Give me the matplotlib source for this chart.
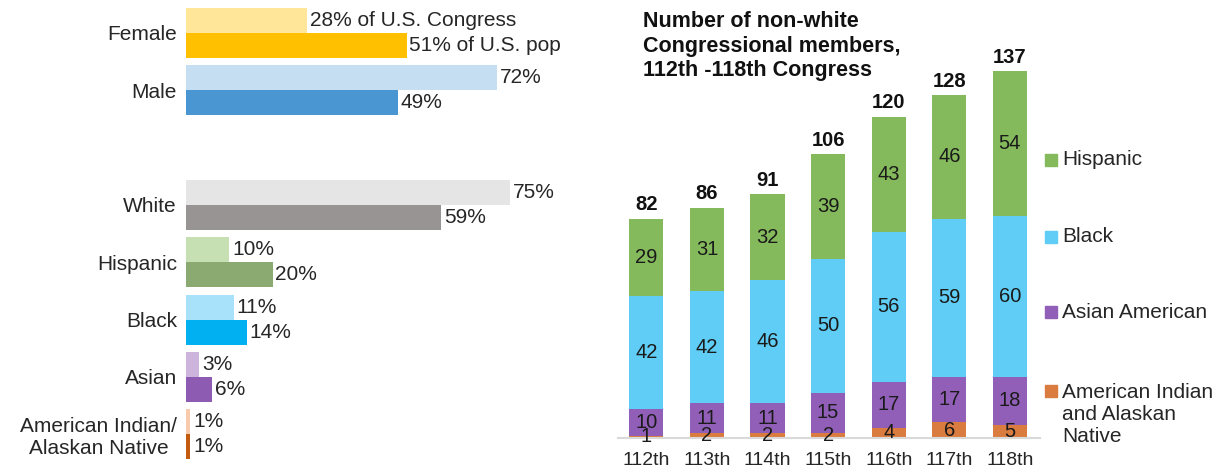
import numpy as np
import matplotlib
matplotlib.use('Agg')
import matplotlib.pyplot as plt
from matplotlib.patches import Rectangle

plt.rcParams['font.family'] = ['Liberation Sans', 'DejaVu Sans']

# Left panel: share of Congress vs share of U.S. population
categories = ['Female', 'Male', 'White', 'Hispanic', 'Black', 'Asian',
              'American Indian/\nAlaskan Native']
congress_pct = [28, 72, 75, 10, 11, 3, 1]
population_pct = [51, 49, 59, 20, 14, 6, 1]
light_colors = ['#FFE699', '#C6DEF1', '#E5E5E5', '#C6E0B4', '#A8E2FA', '#CCB4DC', '#F8CBAD']
dark_colors = ['#FFC000', '#4A96D2', '#989494', '#8AAA72', '#00B0F0', '#8E5BB3', '#C55A11']

# Right panel: non-white members by Congress
congresses = ['112th', '113th', '114th', '115th', '116th', '117th', '118th']
ai_an = [1, 2, 2, 2, 4, 6, 5]
asian = [10, 11, 11, 15, 17, 17, 18]
black = [42, 42, 46, 50, 56, 59, 60]
hispanic = [29, 31, 32, 39, 43, 46, 54]
totals = [82, 86, 91, 106, 120, 128, 137]
series_names = ['American Indian\nand Alaskan\nNative', 'Asian American', 'Black', 'Hispanic']
series_colors = ['#DA7C3F', '#915FB8', '#5FCDF5', '#84BA5C']

W, H = 1229, 471
fig = plt.figure(figsize=(W / 100, H / 100), dpi=100)
txt = '#262626'

# ---- left chart ----
ax1 = fig.add_axes([186 / W, 1 - 463 / H, 346 / W, 458.7 / H])
idx = np.arange(len(categories))
y = idx + (idx >= 2)  # blank row between gender and race groups
h = 0.436
ax1.barh(y - h / 2, congress_pct, height=h, color=light_colors)
ax1.barh(y + h / 2, population_pct, height=h, color=dark_colors)
for i in range(len(categories)):
    c_lab = f'{congress_pct[i]}%'
    p_lab = f'{population_pct[i]}%'
    if i == 0:
        c_lab += ' of U.S. Congress'
        p_lab += ' of U.S. pop'
    ax1.annotate(c_lab, (congress_pct[i], y[i] - h / 2), xytext=(2, 0),
                 textcoords='offset points', va='center', fontsize=15, color=txt)
    ax1.annotate(p_lab, (population_pct[i], y[i] + h / 2), xytext=(2, 0),
                 textcoords='offset points', va='center', fontsize=15, color=txt)
ax1.set_xlim(0, 80)
ax1.set_ylim(7.5, -0.5)
ax1.set_yticks(y)
ax1.set_yticklabels(categories, fontsize=15, color=txt, multialignment='center',
                    linespacing=1.2)
ax1.tick_params(axis='y', length=0, pad=6.5)
ax1.set_xticks([])
for s in ax1.spines.values():
    s.set_visible(False)

# ---- right chart ----
ax2 = fig.add_axes([618 / W, 1 - 438.3 / H, 422 / W, 402 / H])
x = np.arange(len(congresses))
bw = 0.566
bottom = np.zeros(len(congresses))
for vals, col in zip([ai_an, asian, black, hispanic], series_colors):
    bars = ax2.bar(x, vals, bw, bottom=bottom, color=col)
    ax2.bar_label(bars, labels=[str(v) for v in vals], label_type='center',
                  fontsize=14.5, color='#1a1a1a')
    bottom += np.array(vals)
for xi, t in zip(x, totals):
    ax2.annotate(str(t), (xi, t), xytext=(0, 10), textcoords='offset points',
                 ha='center', va='center', fontsize=14.5, fontweight='bold', color='#111111')
ax2.set_xlim(-0.467, 6.497)
ax2.set_ylim(0, 150)
ax2.set_xticks(x)
ax2.set_xticklabels(congresses, fontsize=14, color=txt)
ax2.tick_params(axis='x', length=0, pad=10)
ax2.set_yticks([])
for name, s in ax2.spines.items():
    s.set_visible(name == 'bottom')
ax2.spines['bottom'].set_color('#D9D9D9')
ax2.spines['bottom'].set_linewidth(1.5)

fig.text(643 / W, 1 - 11 / H, 'Number of non-white\nCongressional members,\n112th -118th Congress',
         ha='left', va='top', fontsize=15.5, fontweight='bold', color='#111111',
         linespacing=1.22)

# legend, drawn manually to keep Excel style (square beside first line)
leg_text_y = [415, 312, 237, 160]
leg_box_y = [391, 312, 237, 160]
for name, col, ty, by in zip(series_names, series_colors, leg_text_y, leg_box_y):
    fig.add_artist(Rectangle((1045 / W, 1 - (by + 6) / H), 12 / W, 12 / H,
                             transform=fig.transFigure, color=col))
    fig.text(1062 / W, 1 - ty / H, name, ha='left', va='center', fontsize=15,
             color=txt, linespacing=1.2)

fig.savefig('out.png', dpi=100)
